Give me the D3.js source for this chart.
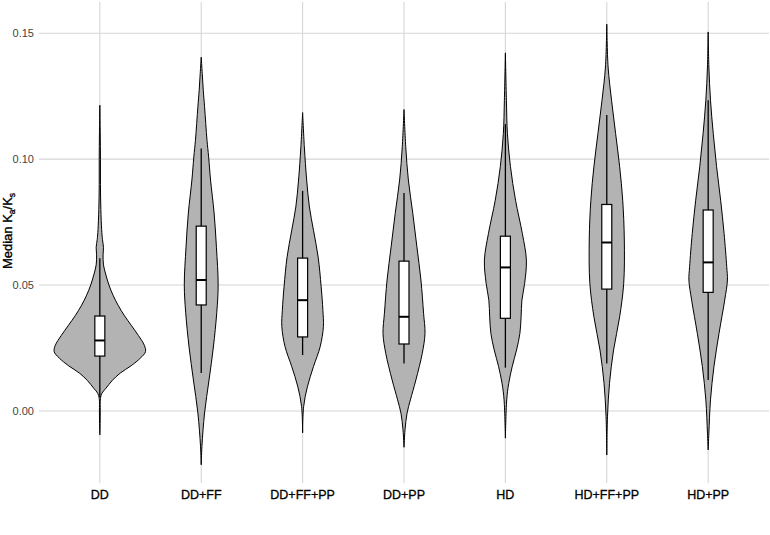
<!DOCTYPE html>
<html>
<head>
<meta charset="utf-8">
<script src="https://cdn.jsdelivr.net/npm/d3@7"></script>
<style>
  body { margin: 0; background: #fff; }
  text { font-family: "Liberation Sans", Arial, sans-serif; }
</style>
</head>
<body>
<div id="chart"></div>
<script>
// Groups (x axis)
var categories = ["DD", "DD+FF", "DD+FF+PP", "DD+PP", "HD", "HD+FF+PP", "HD+PP"];

// Box plot stats per group
var boxQ1     = [0.0218, 0.0421, 0.0294, 0.0266, 0.0368, 0.0484, 0.0471];
var boxMedian = [0.0280, 0.0520, 0.0440, 0.0374, 0.0570, 0.0669, 0.0590];
var boxQ3     = [0.0377, 0.0734, 0.0607, 0.0595, 0.0694, 0.0820, 0.0798];
var whiskerLo = [0.0055, 0.0151, 0.0222, 0.0189, 0.0172, 0.0189, 0.0123];
var whiskerHi = [0.0606, 0.1042, 0.0874, 0.0866, 0.1139, 0.1175, 0.1234];

// Kernel density outlines: [value, density]
var densDD = [[0.1214,0],[0.110,0.4],[0.100,0.6],[0.090,0.6],[0.080,1.0],[0.072,1.8],[0.068,2.6],
  [0.065,3.6],[0.062,3.2],[0.058,3.6],[0.054,6],[0.050,9],[0.046,13],[0.042,18],[0.038,24],
  [0.034,31],[0.030,38],[0.026,44],[0.0235,45],[0.021,40],[0.018,31],[0.015,20],[0.012,12],
  [0.009,6],[0.007,2],[0.005,0.6],[0.000,0.4],[-0.005,0.3],[-0.0095,0]];
var densDDFF = [[0.1405,0],[0.134,1],[0.1274,2],[0.1208,3.3],[0.1075,5.7],[0.1009,7.3],[0.0917,9.2],
  [0.0786,12.7],[0.065,15],[0.050,16.7],[0.039,15.3],[0.0254,12],[0.0123,7.7],[-0.0008,3.3],
  [-0.014,0.7],[-0.0214,0]];
var densDDFFPP = [[0.1185,0],[0.1049,1.7],[0.0917,4],[0.081,6.7],[0.0718,10.7],[0.0612,15.3],
  [0.0493,18.3],[0.040,20],[0.0335,20.5],[0.0255,17.3],[0.0176,10.7],[0.0096,4.7],[0.0017,1],
  [-0.0087,0]];
var densDDPP = [[0.1197,0],[0.105,1.7],[0.0917,4.3],[0.0784,8.7],[0.0652,12.7],[0.052,16.7],
  [0.0388,19.3],[0.0308,20.7],[0.0229,18],[0.0123,11.7],[0.0044,6.3],[-0.0009,3],[-0.0075,1],
  [-0.0144,0]];
var densHD = [[0.1422,0],[0.1234,1],[0.1102,2],[0.097,5],[0.0837,10],[0.0705,16.7],[0.0599,20.7],
  [0.0507,19],[0.044,16.3],[0.0374,15.5],[0.0308,14.3],[0.0242,11],[0.0176,6.7],[0.011,3.3],
  [0.0044,1.3],[-0.0108,0]];
var densHDFFPP = [[0.1536,0],[0.1366,1.3],[0.1234,4.7],[0.1102,8.7],[0.097,12.7],[0.0837,15.7],
  [0.0679,17.3],[0.0507,16.7],[0.0374,12.7],[0.0242,6.7],[0.011,2.7],[-0.0023,0.7],[-0.0175,0]];
var densHDPP = [[0.1505,0],[0.1366,0.7],[0.1234,2.3],[0.1102,5],[0.097,8.3],[0.0837,12.3],
  [0.0705,15.7],[0.0573,18.3],[0.052,19],[0.044,16.3],[0.0308,10.7],[0.0176,5.7],[0.0044,2.3],
  [-0.0088,0.7],[-0.0155,0]];
var densities = [densDD, densDDFF, densDDFFPP, densDDPP, densHD, densHDFFPP, densHDPP];

var yTicks = [0, 0.05, 0.10, 0.15];

// Layout
var W = 770, H = 535;
var panel = { left: 39, right: 769, top: 2, bottom: 483 };

var svg = d3.select("#chart").append("svg")
    .attr("width", W)
    .attr("height", H);

var x = d3.scalePoint()
    .domain(categories)
    .range([panel.left, panel.right])
    .padding(0.6);

var y = d3.scaleLinear()
    .domain([-0.0286, 0.1624])
    .range([panel.bottom, panel.top]);

var maxDens = d3.max(densities, function (d) { return d3.max(d, function (p) { return p[1]; }); });
var w = d3.scaleLinear().domain([0, maxDens]).range([0, x.step() * 0.45]);

// Grid
var grid = svg.append("g");
grid.selectAll(".hgrid")
    .data(yTicks)
    .enter().append("line")
    .attr("x1", panel.left).attr("x2", panel.right)
    .attr("y1", function (d) { return y(d); })
    .attr("y2", function (d) { return y(d); })
    .attr("stroke", "#d6d6d6")
    .attr("stroke-width", 1.1);
grid.selectAll(".vgrid")
    .data(categories)
    .enter().append("line")
    .attr("y1", panel.top).attr("y2", panel.bottom)
    .attr("x1", function (d) { return x(d); })
    .attr("x2", function (d) { return x(d); })
    .attr("stroke", "#d6d6d6")
    .attr("stroke-width", 1.1);

// Y tick labels
svg.selectAll(".ylab")
    .data(yTicks)
    .enter().append("text")
    .attr("x", 34)
    .attr("y", function (d) { return y(d); })
    .attr("dy", "0.35em")
    .attr("text-anchor", "end")
    .attr("font-size", 11)
    .attr("fill", "#444")
    .text(function (d) { return d3.format(".2f")(d); });

// X tick labels
svg.selectAll(".xlab")
    .data(categories)
    .enter().append("text")
    .attr("x", function (d) { return x(d); })
    .attr("y", 495)
    .attr("dy", "0.35em")
    .attr("text-anchor", "middle")
    .attr("font-size", 12.5)
    .attr("fill", "#000")
    .attr("stroke", "#000")
    .attr("stroke-width", 0.3)
    .text(function (d) { return d; });

// Y axis title with subscripts
var title = svg.append("text")
    .attr("transform", "translate(12,231) rotate(-90)")
    .attr("text-anchor", "middle")
    .attr("font-size", 13)
    .attr("fill", "#000")
    .attr("stroke", "#000")
    .attr("stroke-width", 0.35);
title.append("tspan").text("Median K");
title.append("tspan").attr("font-size", 8.5).attr("dy", 3).text("a");
title.append("tspan").attr("dy", -3).text("/K");
title.append("tspan").attr("font-size", 8.5).attr("dy", 3).text("s");

// Violins
var area = d3.area()
    .curve(d3.curveCatmullRom.alpha(0.5))
    .y(function (p) { return y(p[0]); });

svg.append("g").selectAll("path")
    .data(categories)
    .enter().append("path")
    .attr("d", function (c, i) {
        var cx = x(c);
        return area
            .x0(function (p) { return cx - w(p[1]); })
            .x1(function (p) { return cx + w(p[1]); })(densities[i]);
    })
    .attr("fill", "#b3b3b3")
    .attr("stroke", "#000")
    .attr("stroke-width", 1);

// Box plots
var boxW = 10;
var boxes = svg.append("g").selectAll("g")
    .data(categories)
    .enter().append("g");

boxes.append("line")
    .attr("x1", function (c) { return x(c); })
    .attr("x2", function (c) { return x(c); })
    .attr("y1", function (c, i) { return y(whiskerHi[i]); })
    .attr("y2", function (c, i) { return y(whiskerLo[i]); })
    .attr("stroke", "#000")
    .attr("stroke-width", 1.3);

boxes.append("rect")
    .attr("x", function (c) { return x(c) - boxW / 2; })
    .attr("y", function (c, i) { return y(boxQ3[i]); })
    .attr("width", boxW)
    .attr("height", function (c, i) { return y(boxQ1[i]) - y(boxQ3[i]); })
    .attr("fill", "#fff")
    .attr("stroke", "#000")
    .attr("stroke-width", 1.2);

boxes.append("line")
    .attr("x1", function (c) { return x(c) - boxW / 2; })
    .attr("x2", function (c) { return x(c) + boxW / 2; })
    .attr("y1", function (c, i) { return y(boxMedian[i]); })
    .attr("y2", function (c, i) { return y(boxMedian[i]); })
    .attr("stroke", "#000")
    .attr("stroke-width", 2);
</script>
</body>
</html>
